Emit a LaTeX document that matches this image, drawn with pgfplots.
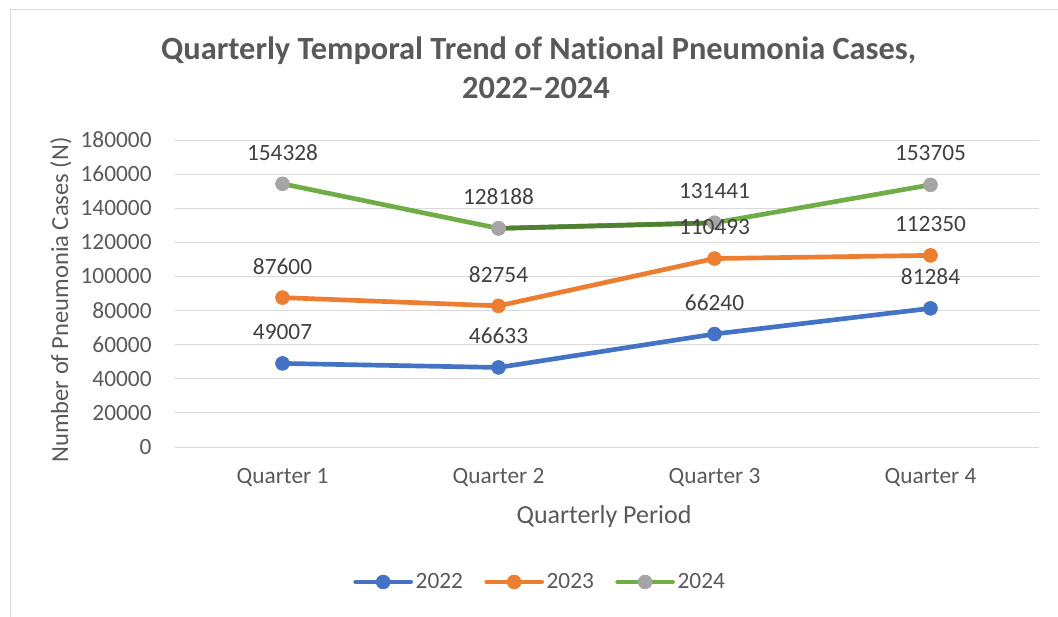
\documentclass[border=0pt]{standalone}
\usepackage{pgfplots}
\pgfplotsset{compat=1.18}
\usepackage{pgfplotstable}
\usepackage{fontspec}
\setmainfont{Carlito}[Ligatures={TeX,NoCommon}]
\definecolor{c22}{HTML}{4472C4}
\definecolor{c23}{HTML}{ED7D31}
\definecolor{c24}{HTML}{70AD47}
\definecolor{c24d}{HTML}{4F7F30}
\definecolor{mk}{HTML}{A5A5A5}
\definecolor{txt}{HTML}{595959}
\definecolor{lbl}{HTML}{404040}
\definecolor{gridc}{HTML}{D9D9D9}

\pgfplotstableread{
x y22 y23 y24
0 49007 87600 154328
1 46633 82754 128188
2 66240 110493 131441
3 81284 112350 153705
}\data

\begin{document}
\begin{tikzpicture}
\path[use as bounding box] (0,0) rectangle (793.5pt,-462.75pt);
\draw[gridc, line width=0.75pt] (7.5pt,-462.75pt) -- (7.5pt,-7.5pt) -- (793.5pt,-7.5pt);
% title
\node[anchor=base, text=txt, font=\fontsize{24.3pt}{29pt}\selectfont\bfseries] at (404pt,-45pt) {Quarterly Temporal Trend of National Pneumonia Cases,};
\node[anchor=base, text=txt, font=\fontsize{24.3pt}{29pt}\selectfont\bfseries] at (402pt,-74.25pt) {2022--2024};
% axis titles
\node[anchor=base, rotate=90, text=txt, font=\fontsize{18.4pt}{22pt}\selectfont] at (51pt,-225pt) {Number of Pneumonia Cases (N)};
\node[anchor=base, text=txt, font=\fontsize{19.5pt}{23pt}\selectfont] at (453pt,-392.25pt) {Quarterly Period};
\begin{axis}[
  at={(130.875pt,-335.25pt)}, anchor=south west,
  scale only axis, width=648pt, height=230.25pt,
  xmin=-0.5, xmax=3.5, ymin=0, ymax=180000,
  xtick={0,1,2,3}, xticklabels={Quarter 1,Quarter 2,Quarter 3,Quarter 4},
  ytick={0,20000,...,180000},
  scaled y ticks=false,
  /pgf/number format/fixed,
  /pgf/number format/1000 sep={},
  /pgf/number format/assume math mode=true,
  ymajorgrids, grid style={gridc, line width=0.75pt},
  axis line style={draw=none}, major tick style={draw=none},
  yticklabel style={anchor=east, inner sep=0pt, xshift=-17pt, text=txt, font=\fontsize{17.5pt}{21pt}\selectfont},
  xticklabel style={anchor=base, inner sep=0pt, yshift=-27pt, text=txt, font=\fontsize{17.5pt}{21pt}\selectfont},
  clip=false,
  legend columns=3,
  legend style={at={(axis description cs:0.4236,-0.4397)}, anchor=center, draw=none, fill=none,
    font=\fontsize{17.5pt}{20pt}\selectfont, text=txt,
    nodes={inner sep=2pt},
    /tikz/every even column/.append style={column sep=14pt}},
  legend image code/.code={\draw[mark repeat=2,mark phase=2,#1] plot coordinates {(0pt,0pt)(20.6pt,0pt)(41.25pt,0pt)};},
  every axis plot/.append style={line width=3.5pt, line cap=round, line join=round},
  mark size=5.2pt,
]
\addplot[c22, mark=*, mark options={fill=c22, draw=c22, line width=0.5pt}] table[x=x,y=y22]{\data};
\addlegendentry{2022}
\addplot[c23, mark=*, mark options={fill=c23, draw=c23, line width=0.5pt}] table[x=x,y=y23]{\data};
\addlegendentry{2023}
\addplot[c24, mark=*, mark options={fill=mk, draw=mk, line width=0.5pt}] table[x=x,y=y24]{\data};
\addlegendentry{2024}
\addplot[c24d, no markers, forget plot, restrict x to domain=1:2] table[x=x,y=y24]{\data};
\addplot[only marks, mark=*, mark options={fill=mk, draw=mk, line width=0.5pt}, forget plot, restrict x to domain=1:2] table[x=x,y=y24]{\data};
% data labels
\pgfplotsinvokeforeach{y22,y23,y24}{
\addplot[draw=none, no markers, forget plot, point meta=explicit symbolic,
  nodes near coords, every node near coord/.append style={anchor=center, yshift=23.6pt, inner sep=0pt, text=lbl, font=\fontsize{17.5pt}{21pt}\selectfont}]
  table[x=x,y=#1,meta=#1]{\data};
}
\end{axis}
\end{tikzpicture}
\end{document}
